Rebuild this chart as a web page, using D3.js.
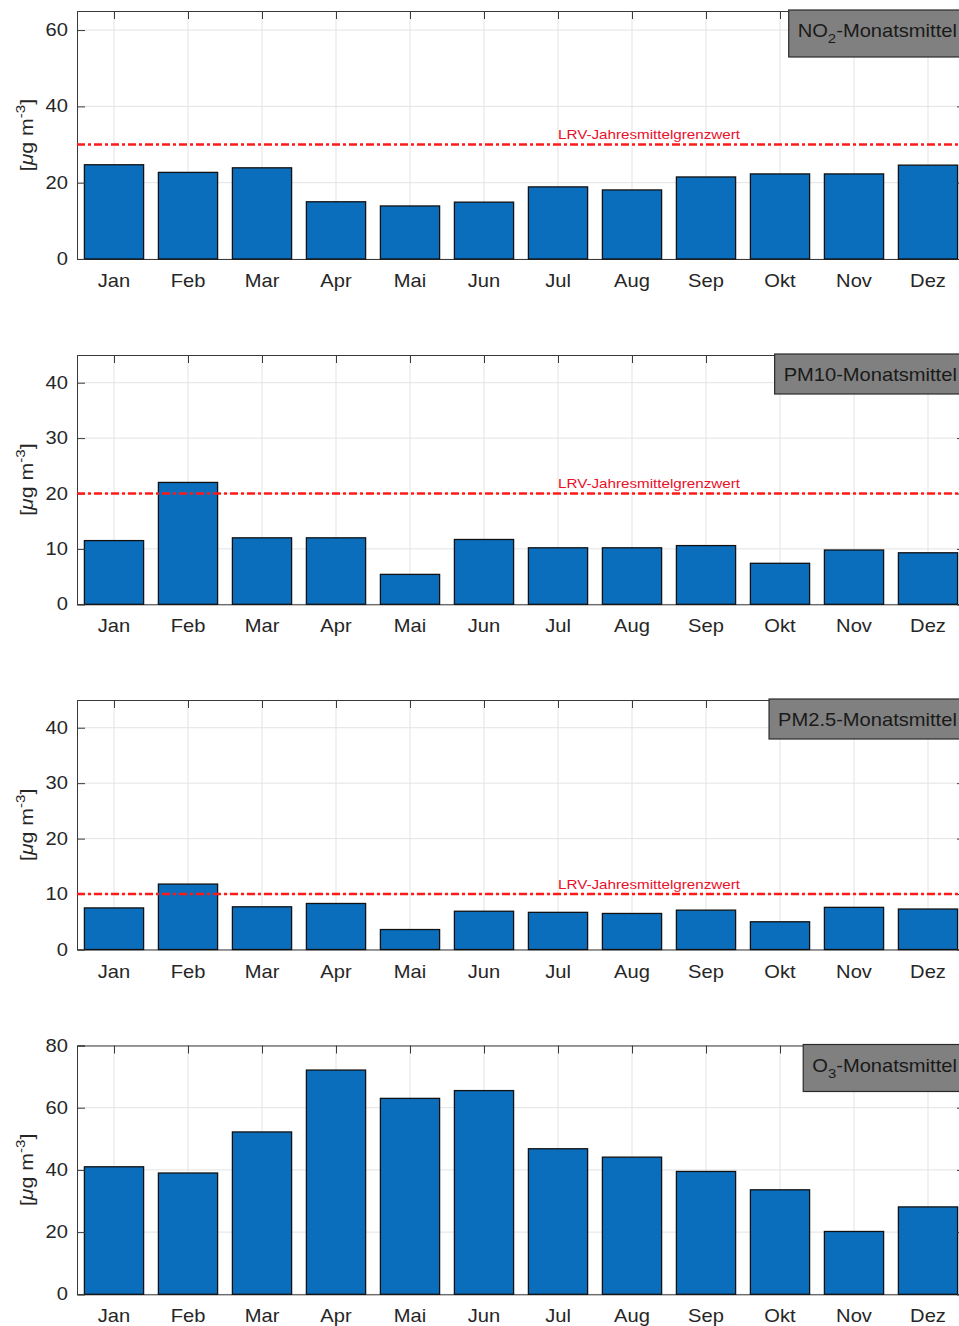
<!DOCTYPE html>
<html>
<head>
<meta charset="utf-8">
<script src="https://cdn.jsdelivr.net/npm/d3@7"></script>
<style>
  body { margin: 0; background: #fff; }
  svg { display: block; }
  text { font-family: "Liberation Sans", Arial, Helvetica, sans-serif; }
</style>
</head>
<body>
<svg id="chart" width="959" height="1326"></svg>
<script>
// Monthly means (µg/m³) per pollutant
const months = ["Jan", "Feb", "Mar", "Apr", "Mai", "Jun", "Jul", "Aug", "Sep", "Okt", "Nov", "Dez"];
const no2  = [24.7, 22.7, 23.9, 15.0, 13.9, 14.9, 18.9, 18.1, 21.5, 22.3, 22.3, 24.6];
const pm10 = [11.5, 22.0, 12.0, 12.0, 5.4, 11.7, 10.2, 10.2, 10.6, 7.4, 9.8, 9.3];
const pm25 = [7.5, 11.8, 7.7, 8.3, 3.6, 6.9, 6.7, 6.5, 7.1, 5.0, 7.6, 7.3];
const o3   = [41.0, 39.0, 52.2, 72.1, 63.0, 65.5, 46.8, 44.1, 39.5, 33.6, 20.2, 28.1];

// Annual limit values (LRV) drawn as reference lines
const limitValues = [30, 20, 10, null];
const limitLabel = "LRV-Jahresmittelgrenzwert";

// Y axis extents and tick labels for each panel
const yMaxima = [65, 45, 45, 80];
const yTickValues = [
  [0, 20, 40, 60],
  [0, 10, 20, 30, 40],
  [0, 10, 20, 30, 40],
  [0, 20, 40, 60, 80]
];

// Panel titles: [main text, subscript, rest]
const panelTitles = [
  ["NO", "2", "-Monatsmittel"],
  ["PM10-Monatsmittel", "", ""],
  ["PM2.5-Monatsmittel", "", ""],
  ["O", "3", "-Monatsmittel"]
];

const seriesList = [no2, pm10, pm25, o3];

// ---- layout ----
const svg = d3.select("#chart");
const axLeft = 77, axRight = 965;
const panelTops = [11, 355, 700, 1045.5];
const panelBottoms = [259, 604.3, 949.5, 1294.3];
const sx = 1.15;            // horizontal text stretch
const barColor = "#0b6ebc";
const axisColor = "#3a3a3a";
const gridColor = "#e3e3e3";
const textColor = "#262626";

function stretchedText(g, x, y, str, size, anchor, color) {
  return g.append("text")
    .attr("transform", `translate(${x},${y}) scale(${sx},1)`)
    .attr("text-anchor", anchor)
    .attr("font-size", size)
    .attr("fill", color)
    .text(str);
}

const x = d3.scaleLinear().domain([0.5, 12.5]).range([axLeft, axRight]);
const barW = x(1.4) - x(0.6);

seriesList.forEach((values, p) => {
  const top = panelTops[p], bottom = panelBottoms[p];
  const y = d3.scaleLinear().domain([0, yMaxima[p]]).range([bottom, top]);
  const g = svg.append("g");

  // grid
  g.selectAll(".vg").data(months).join("line")
    .attr("x1", (d, i) => x(i + 1)).attr("x2", (d, i) => x(i + 1))
    .attr("y1", top).attr("y2", bottom)
    .attr("stroke", gridColor).attr("stroke-width", 1);
  g.selectAll(".hg").data(yTickValues[p]).join("line")
    .attr("x1", axLeft).attr("x2", axRight)
    .attr("y1", d => y(d)).attr("y2", d => y(d))
    .attr("stroke", gridColor).attr("stroke-width", 1);

  // bottom axis with inward ticks (behind bars)
  const xAxisBottom = d3.axisBottom(x).tickValues(d3.range(1, 13))
    .tickSize(-8).tickFormat("");
  g.append("g").attr("transform", `translate(0,${bottom})`).call(xAxisBottom)
    .call(s => s.selectAll("line,path").attr("stroke", axisColor));

  // bars
  g.selectAll(".bar").data(values).join("rect")
    .attr("x", (d, i) => x(i + 1) - barW / 2)
    .attr("width", barW)
    .attr("y", d => y(d))
    .attr("height", d => y(0) - y(d))
    .attr("fill", barColor)
    .attr("stroke", "#111")
    .attr("stroke-width", 1.3);

  // top axis with inward ticks
  const xAxisTop = d3.axisTop(x).tickValues(d3.range(1, 13)).tickSize(-8).tickFormat("");
  g.append("g").attr("transform", `translate(0,${top})`).call(xAxisTop)
    .call(s => s.selectAll("line,path").attr("stroke", axisColor));

  // left axis
  const yAxisLeft = d3.axisLeft(y).tickValues(yTickValues[p]).tickSize(-8).tickFormat("");
  g.append("g").attr("transform", `translate(${axLeft},0)`).call(yAxisLeft)
    .call(s => s.selectAll("line,path").attr("stroke", axisColor));

  // right axis
  const yAxisRight = d3.axisRight(y).tickValues(yTickValues[p]).tickSize(-8).tickFormat("");
  g.append("g").attr("transform", `translate(${axRight},0)`).call(yAxisRight)
    .call(s => s.selectAll("line,path").attr("stroke", axisColor));

  // y tick labels
  yTickValues[p].forEach(v => {
    stretchedText(g, axLeft - 9, y(v) + 6, String(v), 17.5, "end", textColor);
  });

  // month labels
  months.forEach((m, i) => {
    stretchedText(g, x(i + 1), bottom + 28, m, 17.5, "middle", textColor);
  });

  // y axis label
  const yl = g.append("text")
    .attr("transform", `translate(33,${(top + bottom) / 2}) rotate(-90) scale(1.12,1)`)
    .attr("text-anchor", "middle")
    .attr("font-size", 19)
    .attr("fill", textColor);
  yl.append("tspan").text("[");
  yl.append("tspan").attr("font-style", "italic").text("\u03bc");
  yl.append("tspan").text("g m");
  yl.append("tspan").attr("font-size", 13.5).attr("dy", -8).text("-3");
  yl.append("tspan").attr("dy", 8).text("]");

  // limit line + label
  const lim = limitValues[p];
  if (lim !== null) {
    g.append("line")
      .attr("x1", axLeft).attr("x2", axRight)
      .attr("y1", y(lim)).attr("y2", y(lim))
      .attr("stroke", "#ff1a1a").attr("stroke-width", 2.4)
      .attr("stroke-dasharray", "8,3,3,3");
    g.append("text")
      .attr("transform", `translate(${x(7)},${y(lim) - 5.5}) scale(1.17,1)`)
      .attr("font-size", 13)
      .attr("fill", "#e8102a")
      .text(limitLabel);
  }

  // title box in the top-right corner
  const t = panelTitles[p];
  const hasSub = t[1] !== "";
  const boxH = hasSub ? 47 : 40;
  const boxTop = top - 1;
  const tb = g.append("g");
  const rect = tb.append("rect")
    .attr("y", boxTop).attr("height", boxH)
    .attr("fill", "#808080").attr("stroke", "#2a2a2a").attr("stroke-width", 1.2);
  const tt = tb.append("text")
    .attr("font-size", 17.5)
    .attr("fill", "#1a1a1a");
  tt.append("tspan").text(t[0]);
  if (hasSub) {
    tt.append("tspan").attr("font-size", 13).attr("dy", 6).text(t[1]);
    tt.append("tspan").attr("dy", -6).text(t[2]);
  }
  const w = tt.node().getComputedTextLength() * sx;
  const textLeft = axRight - 8 - w;
  tt.attr("transform", `translate(${textLeft},${boxTop + 27}) scale(${sx},1)`);
  rect.attr("x", textLeft - 9).attr("width", axRight - (textLeft - 9));
});
</script>
</body>
</html>
